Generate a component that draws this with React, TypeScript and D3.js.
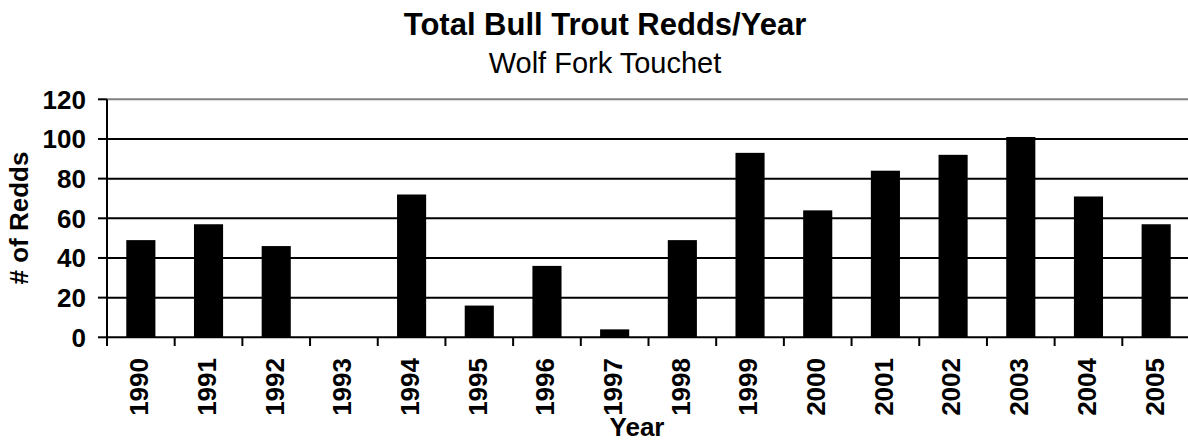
import React from "react";
import * as d3 from "d3";

const years = ["1990","1991","1992","1993","1994","1995","1996","1997","1998","1999","2000","2001","2002","2003","2004","2005"];
const redds = [49, 57, 46, 0, 72, 16, 36, 4, 49, 93, 64, 84, 92, 101, 71, 57];
const yTicks = [0, 20, 40, 60, 80, 100, 120];

const W = 1188, H = 443;
const left = 107, right = 1190, top = 99.3, bottom = 337.3;
const font = "Liberation Sans, Arial, sans-serif";

export default function App() {
  const x = d3.scaleBand<string>().domain(years).range([left, right]).paddingInner(0.57).paddingOuter(0.285);
  const xb = d3.scaleBand<string>().domain(years).range([left, right]);
  const y = d3.scaleLinear().domain([0, 120]).range([bottom, top]);
  return (
    <svg width={W} height={H} style={{ position: "absolute", left: 0, top: 0, background: "#fff" }} fontFamily={font}>
      <rect x={0} y={0} width={W} height={H} fill="#fff" />
      <text x={605} y={35} textAnchor="middle" fontSize={31} fontWeight="bold">Total Bull Trout Redds/Year</text>
      <text x={605} y={73} textAnchor="middle" fontSize={29}>Wolf Fork Touchet</text>
      {yTicks.map(t => (
        <g key={t}>
          {t > 0 && <line x1={left} x2={W} y1={y(t)} y2={y(t)} stroke={t === 120 ? "#808080" : "#000"} strokeWidth={2} />}
          <line x1={98} x2={left} y1={y(t)} y2={y(t)} stroke="#000" strokeWidth={2} />
          <text x={86} y={y(t)} dy="0.36em" textAnchor="end" fontSize={26} fontWeight="bold">{t}</text>
        </g>
      ))}
      {years.map((yr, i) => (
        <rect key={yr} x={x(yr)} y={y(redds[i])} width={x.bandwidth()} height={bottom - y(redds[i])} fill="#000" />
      ))}
      <line x1={left} x2={left} y1={top} y2={bottom} stroke="#000" strokeWidth={2} />
      <line x1={left} x2={W} y1={bottom} y2={bottom} stroke="#000" strokeWidth={2} />
      {years.map(yr => (
        <line key={"t" + yr} x1={xb(yr)} x2={xb(yr)} y1={bottom} y2={346} stroke="#000" strokeWidth={2} />
      ))}
      {years.map(yr => {
        const cx = (xb(yr) as number) + xb.bandwidth() / 2 - 2;
        return (
          <text key={"l" + yr} transform={`translate(${cx},358) rotate(-90)`} dy="0.36em" textAnchor="end" fontSize={26} fontWeight="bold">{yr}</text>
        );
      })}
      <text x={637} y={436} textAnchor="middle" fontSize={26} fontWeight="bold">Year</text>
      <text transform={`translate(19,218) rotate(-90)`} dy="0.36em" textAnchor="middle" fontSize={26} fontWeight="bold"># of Redds</text>
    </svg>
  );
}
